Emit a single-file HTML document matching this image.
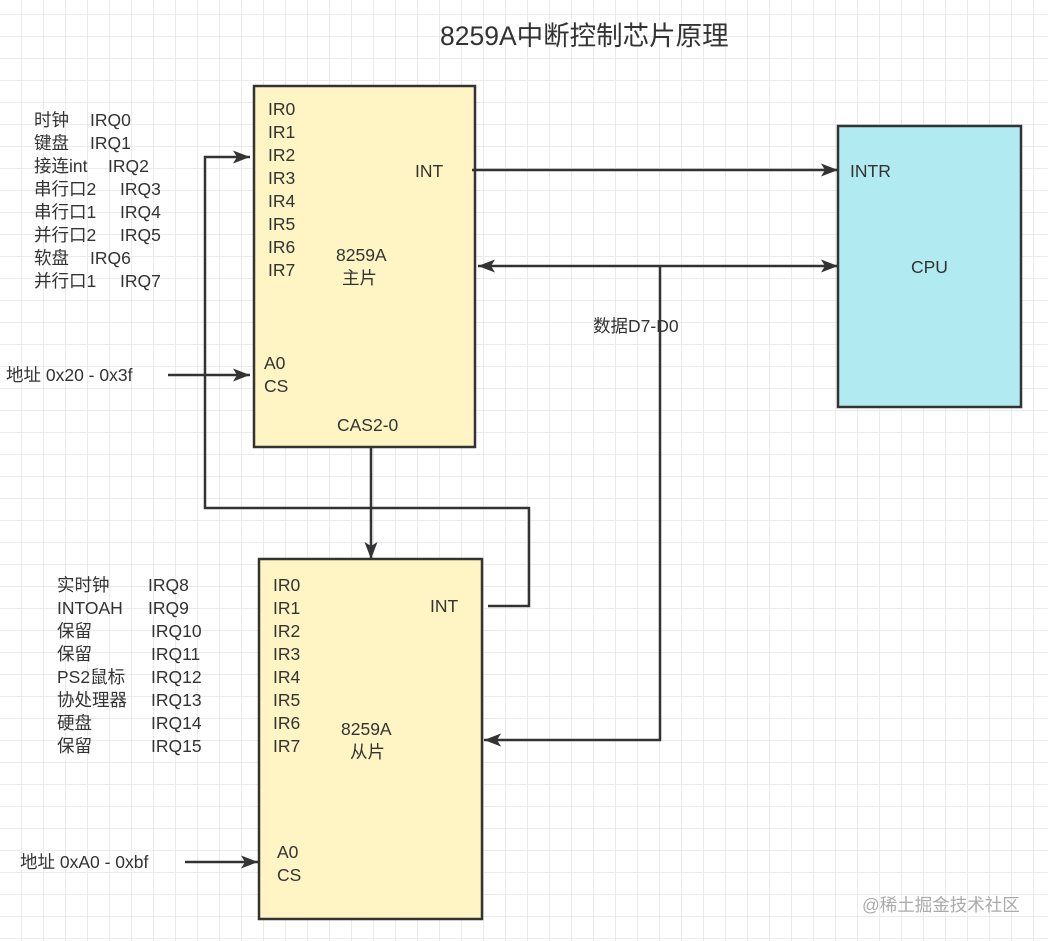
<!DOCTYPE html>
<html><head><meta charset="utf-8"><style>
body{margin:0;width:1048px;height:941px;overflow:hidden;background:#fff;
background-image:linear-gradient(#ebebeb 1px,transparent 1px),linear-gradient(90deg,#ebebeb 1px,transparent 1px);
background-size:22px 22px;background-position:21px 14px;
font-family:"Liberation Sans","Noto Sans CJK SC",sans-serif;color:#333;}
.t{position:absolute;font-size:17.5px;line-height:23px;white-space:pre;}
.r{position:absolute;font-size:17.5px;line-height:23px;white-space:pre;}
</style></head><body>
<svg width="1048" height="941" style="position:absolute;left:0;top:0">
<defs><marker id="a" markerWidth="20" markerHeight="16" refX="17" refY="6.5" orient="auto" markerUnits="userSpaceOnUse"><path d="M0,0 L17,6.5 L0,13 L4,6.5z" fill="#333"/></marker>
<marker id="b" markerWidth="20" markerHeight="16" refX="0" refY="6.5" orient="auto" markerUnits="userSpaceOnUse"><path d="M17,0 L0,6.5 L17,13 L13,6.5z" fill="#333"/></marker></defs>
<rect x="254" y="86" width="221" height="361" fill="#fff4c3" stroke="#333" stroke-width="2.5"/>
<rect x="259" y="559" width="223" height="360" fill="#fff4c3" stroke="#333" stroke-width="2.5"/>
<rect x="838" y="126" width="183" height="281" fill="#b1eaf0" stroke="#333" stroke-width="2.5"/>
<g stroke="#333" stroke-width="2.5" fill="none">
<path d="M472 170 L838 170" marker-end="url(#a)"/>
<path d="M478 266 L838 266" marker-start="url(#b)" marker-end="url(#a)"/>
<path d="M660 266 L660 740 L484 740" marker-end="url(#a)"/>
<path d="M371 447 L371 559" marker-end="url(#a)"/>
<path d="M488 606 L529 606 L529 508 L205 508 L205 157 L250 157" marker-end="url(#a)"/>
<path d="M168 375 L250 375" marker-end="url(#a)"/>
<path d="M185 862 L258 862" marker-end="url(#a)"/>
</g></svg>
<div class="t" style="left:440px;top:18px;font-size:26.5px;line-height:36px">8259A中断控制芯片原理</div>
<div class="t" style="left:34px;top:109px">时钟
键盘
接连int
串行口2
串行口1
并行口2
软盘
并行口1</div>
<div class="r" style="left:90px;top:109px">IRQ0
IRQ1</div>
<div class="r" style="left:108px;top:155px">IRQ2</div>
<div class="r" style="left:120px;top:178px">IRQ3
IRQ4
IRQ5</div>
<div class="r" style="left:90px;top:247px">IRQ6</div>
<div class="r" style="left:120px;top:270px">IRQ7</div>
<div class="t" style="left:268px;top:98px">IR0
IR1
IR2
IR3
IR4
IR5
IR6
IR7</div>
<div class="t" style="left:415px;top:160px">INT</div>
<div class="t" style="left:336px;top:244px">8259A</div>
<div class="t" style="left:342px;top:267px">主片</div>
<div class="t" style="left:264px;top:352px">A0
CS</div>
<div class="t" style="left:337px;top:414px">CAS2-0</div>
<div class="t" style="left:6px;top:364px">地址 0x20 - 0x3f</div>
<div class="t" style="left:850px;top:160px">INTR</div>
<div class="t" style="left:911px;top:256px">CPU</div>
<div class="t" style="left:593px;top:315px">数据D7-D0</div>
<div class="t" style="left:57px;top:574px">实时钟
INTOAH
保留
保留
PS2鼠标
协处理器
硬盘
保留</div>
<div class="r" style="left:148px;top:574px">IRQ8
IRQ9</div>
<div class="r" style="left:151px;top:620px">IRQ10
IRQ11
IRQ12
IRQ13
IRQ14
IRQ15</div>
<div class="t" style="left:273px;top:574px">IR0
IR1
IR2
IR3
IR4
IR5
IR6
IR7</div>
<div class="t" style="left:430px;top:595px">INT</div>
<div class="t" style="left:341px;top:718px">8259A</div>
<div class="t" style="left:350px;top:741px">从片</div>
<div class="t" style="left:277px;top:841px">A0
CS</div>
<div class="t" style="left:20px;top:851px">地址 0xA0 - 0xbf</div>
<div class="t" style="left:862px;top:894px;color:#aaa;font-size:17.5px">@稀土掘金技术社区</div>
</body></html>
